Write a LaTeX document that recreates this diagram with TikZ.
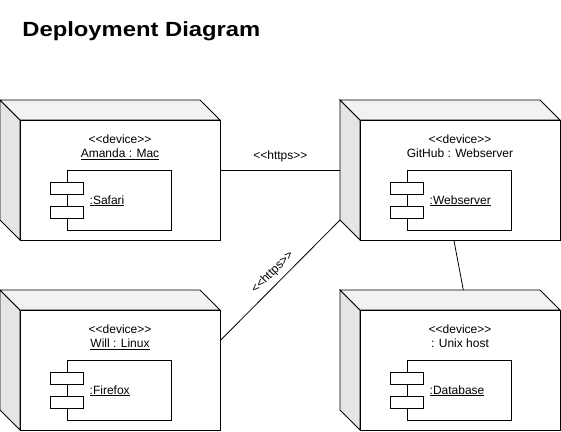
\documentclass[tikz,border=0pt]{standalone}
\usepackage{fontspec}
\setmainfont{Liberation Sans}[Ligatures=TeXOff]
\usetikzlibrary{calc}

\tikzset{
  front/.style={draw, fill=white, minimum width=200pt, minimum height=120pt, inner sep=0pt},
  topface/.style={draw, fill=black!5, line join=miter},
  sideface/.style={draw, fill=black!10, line join=miter},
  comp/.style={draw, fill=white, minimum width=104pt, minimum height=60pt, inner sep=0pt},
  port/.style={draw, fill=white, minimum width=32.7pt, minimum height=12pt, inner sep=0pt},
  txt/.style={font=\fontsize{12}{14}\selectfont, inner sep=0pt},
  link/.style={draw, line width=0.8pt},
}

% #1 name, #2 x of front face, #3 y of front face, #4 node title, #5 component label
\newcommand\devnode[5]{%
  \begin{scope}[shift={(#2,#3)}]
    \path[sideface] (-20,-20) -- (0,0) -- (0,120) -- (-20,100) -- cycle;
    \path[topface] (-20,-20) -- (180,-20) -- (200,0) -- (0,0) -- cycle;
    \node[front, anchor=north west] (#1) at (0,0) {};
    \node[txt, anchor=base] (#1-st) at (100,23) {<<device>>};
    \node[txt, anchor=base] (#1-name) at (100,37.5) {#4};
    \node[comp, anchor=north west] (#1-comp) at (46.7,50) {};
    \node[port, anchor=north west] (#1-p1) at (30,62) {};
    \node[port, anchor=north west] (#1-p2) at (30,86) {};
    \node[txt, anchor=base west] (#1-lbl) at (69.3,84) {\underline{#5}};
  \end{scope}}

\begin{document}
\begin{tikzpicture}[x=1pt, y=-1pt, line width=0.8pt]
  \fill[white] (0,0) rectangle (561,431);
  \useasboundingbox (0,0) rectangle (561,431);

  \node[anchor=base west, inner sep=0pt, font=\bfseries\fontsize{20.5}{24}\selectfont]
    (title) at (22,36.7) {\scalebox{1.16}[1]{Deployment Diagram}};

  \devnode{amanda}{20}{120}{\underline{Amanda : Mac}}{:Safari}
  \devnode{github}{360}{120}{GitHub : Webserver}{:Webserver}
  \devnode{will}{20}{310}{\underline{Will : Linux}}{:Firefox}
  \devnode{db}{360}{310}{: Unix host}{:Database}

  \coordinate (a-out) at ($(amanda.north east)+(0,50)$);
  \coordinate (g-in1) at ($(github.north west)+(-20,50)$);
  \coordinate (w-out) at ($(will.north east)+(0,30)$);
  \coordinate (g-in2) at ($(github.north west)+(-20,100)$);
  \coordinate (g-out) at ($(github.south west)+(94,0)$);
  \coordinate (d-in) at ($(db.north west)+(103.3,-20)$);

  \draw[link] (a-out) -- node[txt, midway, anchor=base, yshift=10.7pt] (lbl1) {<<https>>} (g-in1);
  \draw[link] (w-out) -- node[txt, midway, sloped, above=4.9pt] (lbl2) {<<https>>} (g-in2);
  \draw[link] (g-out) -- (d-in);
\end{tikzpicture}
\end{document}
